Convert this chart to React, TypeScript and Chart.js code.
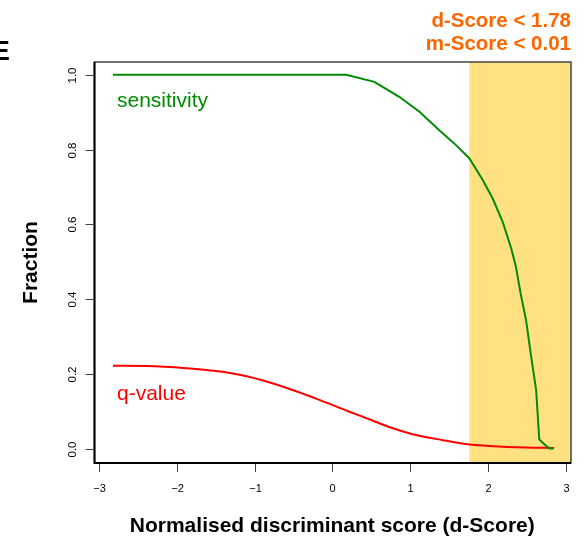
import React, { useEffect, useRef } from "react";
import { Chart, registerables } from "chart.js";

Chart.register(...registerables);

// Sensitivity curve (green)
const sensX = [-2.82, 0.18, 0.54, 0.86, 1.12, 1.375, 1.59, 1.76, 1.93, 2.06, 2.19, 2.3, 2.36, 2.42, 2.49, 2.55, 2.62, 2.66, 2.69, 2.79, 2.85];
const sensY = [1.0, 1.0, 0.981, 0.941, 0.901, 0.852, 0.812, 0.777, 0.72, 0.67, 0.607, 0.536, 0.487, 0.416, 0.345, 0.256, 0.158, 0.026, 0.02, 0.002, 0.002];

// q-value curve (red)
const qX = [-2.82, -2.39, -1.88, -1.28, -0.9, -0.51, -0.21, 0.22, 0.5, 0.73, 1.03, 1.42, 1.74, 2.06, 2.49, 2.85];
const qY = [0.2225, 0.222, 0.216, 0.202, 0.184, 0.158, 0.135, 0.1, 0.078, 0.059, 0.04, 0.024, 0.013, 0.008, 0.0045, 0.003];

const xTicks = [-3, -2, -1, 0, 1, 2, 3];
const xTickLabels = ["\u22123", "\u22122", "\u22121", "0", "1", "2", "3"];
const yTicks = [0, 0.2, 0.4, 0.6, 0.8, 1.0];
const yTickLabels = ["0.0", "0.2", "0.4", "0.6", "0.8", "1.0"];

const threshold = 1.76;
const titleLines = ["d-Score < 1.78", "m-Score < 0.01"];
const xTitle = "Normalised discriminant score (d-Score)";
const yTitle = "Fraction";
const panelLetter = "E";

const FONT = "'Liberation Sans', Arial, Helvetica, sans-serif";

const decorPlugin = {
  id: "decor",
  beforeDatasetsDraw(chart: any) {
    const { ctx, chartArea } = chart;
    const xs = chart.scales.x;
    const x0 = xs.getPixelForValue(threshold);
    ctx.save();
    ctx.fillStyle = "#FFE182";
    ctx.fillRect(x0, chartArea.top, chartArea.right - x0, chartArea.bottom - chartArea.top);
    ctx.restore();
  },
  afterDatasetsDraw(chart: any) {
    const { ctx, chartArea } = chart;
    const xs = chart.scales.x;
    const ys = chart.scales.y;
    const { left, right, top, bottom } = chartArea;
    ctx.save();
    // box
    ctx.strokeStyle = "#444";
    ctx.lineWidth = 1.5;
    ctx.strokeRect(left, top, right - left, bottom - top);
    ctx.strokeStyle = "#000";
    ctx.lineWidth = 2;
    ctx.beginPath();
    ctx.moveTo(left, top);
    ctx.lineTo(left, bottom);
    ctx.lineTo(right, bottom);
    ctx.stroke();

    // x ticks
    ctx.strokeStyle = "#444";
    ctx.lineWidth = 1;
    ctx.fillStyle = "#000";
    ctx.font = `11px ${FONT}`;
    ctx.textAlign = "center";
    ctx.textBaseline = "alphabetic";
    xTicks.forEach((v, i) => {
      const px = Math.round(xs.getPixelForValue(v)) + 0.5;
      ctx.beginPath();
      ctx.moveTo(px, bottom + 1);
      ctx.lineTo(px, bottom + 9);
      ctx.stroke();
      ctx.fillText(xTickLabels[i], px, 492);
    });

    // y ticks
    yTicks.forEach((v, i) => {
      const py = Math.round(ys.getPixelForValue(v)) + 0.5;
      ctx.beginPath();
      ctx.moveTo(left - 1, py);
      ctx.lineTo(left - 9, py);
      ctx.stroke();
      ctx.save();
      ctx.translate(76, py);
      ctx.rotate(-Math.PI / 2);
      ctx.font = `11.5px ${FONT}`;
      ctx.textAlign = "center";
      ctx.fillText(yTickLabels[i], 0, 0);
      ctx.restore();
    });

    // axis titles
    ctx.font = `bold 21px ${FONT}`;
    ctx.textAlign = "center";
    ctx.fillText(xTitle, (left + right) / 2 - 0.5, 531.5);
    ctx.save();
    ctx.translate(37, (top + bottom) / 2);
    ctx.rotate(-Math.PI / 2);
    ctx.fillText(yTitle, 0, 0);
    ctx.restore();

    // in-plot labels
    ctx.textAlign = "left";
    ctx.font = `21px ${FONT}`;
    ctx.fillStyle = "#008B00";
    ctx.fillText("sensitivity", 117, 107);
    ctx.fillStyle = "#FF0000";
    ctx.fillText("q-value", 117, 400);

    // threshold title
    ctx.textAlign = "right";
    ctx.font = `bold 20.5px ${FONT}`;
    ctx.fillStyle = "#FF6600";
    ctx.fillText(titleLines[0], 571, 27);
    ctx.fillText(titleLines[1], 571, 49.5);

    // panel letter
    ctx.fillStyle = "#000";
    ctx.font = `bold 28px ${FONT}`;
    ctx.fillText(panelLetter, 10, 60);
    ctx.restore();
  },
};

export default function App() {
  const ref = useRef<HTMLCanvasElement | null>(null);
  useEffect(() => {
    if (!ref.current) return;
    const chart = new Chart(ref.current, {
      type: "line",
      data: {
        datasets: [
          {
            label: "sensitivity",
            data: sensX.map((x, i) => ({ x, y: sensY[i] })),
            borderColor: "#008B00",
            borderWidth: 2,
            pointRadius: 0,
            fill: false,
            tension: 0,
          },
          {
            label: "q-value",
            data: qX.map((x, i) => ({ x, y: qY[i] })),
            borderColor: "#FF0000",
            borderWidth: 2,
            pointRadius: 0,
            fill: false,
            cubicInterpolationMode: "monotone",
          },
        ],
      },
      options: {
        animation: false,
        responsive: false,
        devicePixelRatio: 1,
        layout: { padding: { left: 94.5, right: 13, top: 62, bottom: 75 } },
        plugins: { legend: { display: false }, tooltip: { enabled: false }, title: { display: false } },
        scales: {
          x: { type: "linear", min: -3.057, max: 3.068, display: false },
          y: { type: "linear", min: -0.037, max: 1.034, display: false },
        },
        events: [],
      },
      plugins: [decorPlugin],
    } as any);
    return () => chart.destroy();
  }, []);
  return (
    <div style={{ position: "absolute", left: 0, top: 0, width: 584, height: 538, background: "#fff" }}>
      <canvas ref={ref} width={584} height={538} style={{ display: "block" }} />
    </div>
  );
}
